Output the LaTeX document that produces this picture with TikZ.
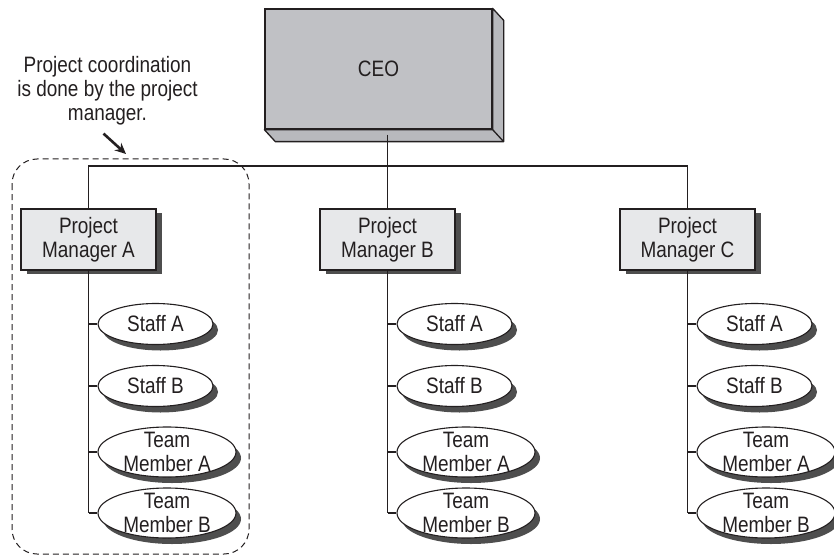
\documentclass[tikz,border=0pt]{standalone}
\usepackage{fontspec}
\setmainfont{Liberation Sans}[FakeStretch=0.85]
\usetikzlibrary{shapes.geometric,shadows,arrows.meta}

\definecolor{inkgray}{RGB}{35,31,32}
\definecolor{ceofront}{RGB}{192,193,197}
\definecolor{ceoside}{RGB}{184,185,189}
\definecolor{pmfill}{RGB}{231,232,234}
\definecolor{shadowgray}{RGB}{78,78,78}

\tikzset{
  every node/.style={font=\fontsize{22.3}{24}\selectfont, text=inkgray},
  link/.style={draw=inkgray, line width=1.1pt},
  ceobox/.style={draw=inkgray, fill=ceofront, line width=1.3pt, minimum width=227pt, minimum height=120pt},
  pmbox/.style={draw=inkgray, fill=pmfill, line width=1.3pt, minimum width=135pt, minimum height=61pt,
    align=center, inner sep=0pt, drop shadow={shadow xshift=6pt, shadow yshift=-4pt, fill=shadowgray, opacity=1}},
  staffoval/.style={ellipse, draw=inkgray, fill=white, line width=1.1pt, minimum width=115pt, minimum height=41pt,
    inner sep=0pt, drop shadow={shadow xshift=5pt, shadow yshift=-6pt, fill=shadowgray, opacity=1}},
  teamoval/.style={staffoval, minimum width=138pt, minimum height=50pt},
  ovaltext/.style={align=center, inner sep=0pt},
  pmgroup/.style={draw=inkgray, line width=1pt, dash pattern=on 6pt off 4pt, rounded corners=25pt},
  notearrow/.style={draw=inkgray, line width=2.6pt, -{Stealth[length=11pt,width=10pt]}},
}

\begin{document}
\begin{tikzpicture}[x=1pt, y=-1pt]
    \useasboundingbox (0,0) rectangle (834,556);

    % CEO box with its depth faces
    \node[ceobox] (ceo) at (378.5,69) {CEO};
    \draw[fill=ceoside, draw=inkgray, line width=1.3pt, line join=round]
        (ceo.north east) -- ++(11,12) -- ([shift={(11,12)}]ceo.south east)
        -- ([shift={(11,12)}]ceo.south west) -- (ceo.south west) -- (ceo.south east) -- cycle;
    \draw[draw=inkgray, line width=1.3pt] (ceo.south east) -- ++(11,12);

    % Note on the coordination
    \node[align=center, inner sep=0pt] (note) at (107.5,91) {Project coordination\\is done by the project\\manager.};
    \coordinate (notetip) at (126,154);
    \draw[notearrow] ([shift={(-4,8)}]note.south) -- (notetip);

    % Dashed group round project manager A
    \draw[pmgroup] (12,159) rectangle (249,554);

    % Project managers with their staff and team members
    \coordinate (bus) at (0,166);
    \foreach \col/\x in {A/88,B/387,C/687} {
        \node[pmbox] (pm\col) at (\x+0.5,239.5) {Project\\Manager \col};
        \node[staffoval] (sa\col) at (\x+67.5,324) {Staff A};
        \node[staffoval] (sb\col) at (\x+67.5,386) {Staff B};
        \node[teamoval] (ta\col) at (\x+79,452) {};
        \node[ovaltext] (ta\col-text) at (ta\col) {Team\\Member A};
        \node[teamoval] (tb\col) at (\x+79,513) {};
        \node[ovaltext] (tb\col-text) at (tb\col) {Team\\Member B};

        \draw[link] (pm\col.south) -- (pm\col.south |- tb\col.west);
        \foreach \m in {sa,sb,ta,tb} {
            \draw[link] (pm\col.south |- \m\col.west) -- (\m\col.west);
        }
    }

    % Lines from the CEO to the project managers
    \draw[link] (pmA.north) -- (pmA.north |- bus) -- (pmC.north |- bus) -- (pmC.north);
    \draw[link] (ceo.south -| pmB.north) ++(0,5) -- (pmB.north);

\end{tikzpicture}
\end{document}
